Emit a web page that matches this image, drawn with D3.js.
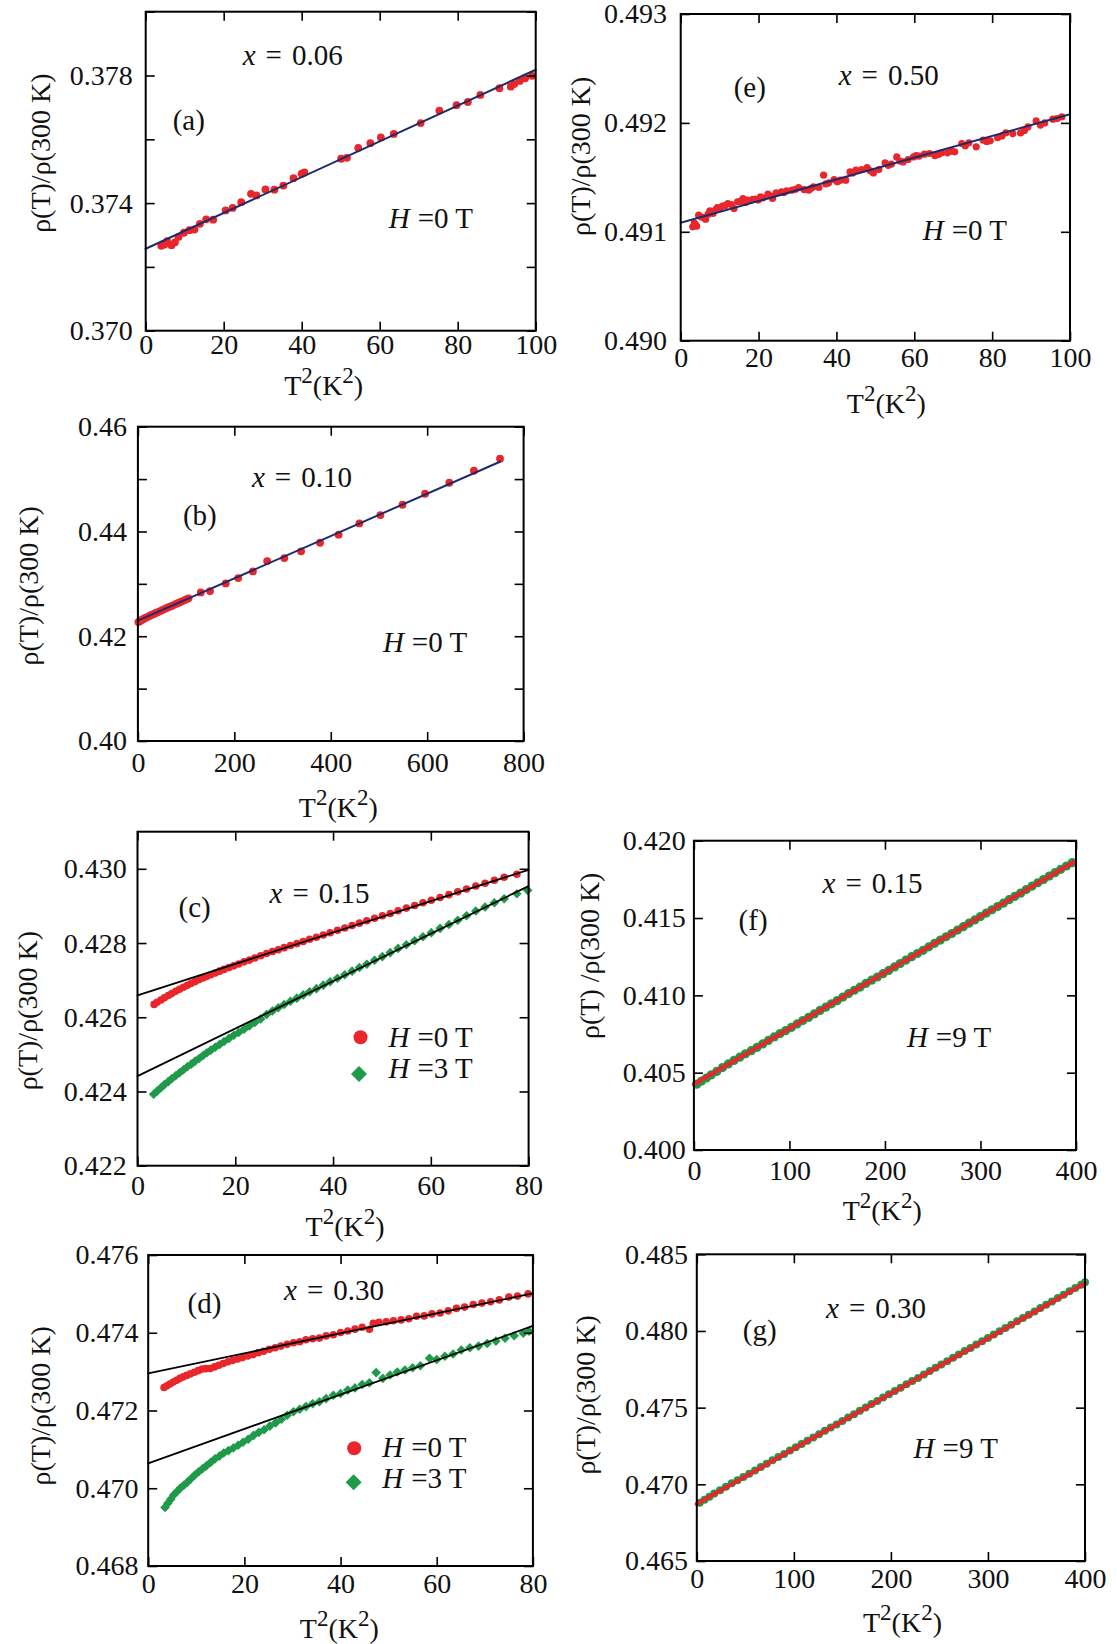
<!DOCTYPE html>
<html>
<head>
<meta charset="utf-8">
<script src="https://cdn.jsdelivr.net/npm/d3@7"></script>
<style>
  body { margin: 0; background: #fff; }
  svg text { font-family: "Liberation Serif", "Times New Roman", serif; fill: #111; }
</style>
</head>
<body>
<svg id="fig" width="1117" height="1644"></svg>
<script>
// rho(T)/rho(300 K) vs T^2, seven panels (a)-(g)

const RED = '#e8262b';
const GREEN = '#1f9a4a';
const NAVY = '#1d2b6b';
const FS = 28;
const TICK = 9;

// ---- panel (a) x = 0.06, H = 0 T
const aT2 = [4.0, 4.8, 5.5, 6.6, 7.5, 8.4, 9.8, 11.2, 12.5, 13.9, 15.5, 17.3, 20.5, 22.3, 24.5, 27.0, 28.4, 30.7, 33.0, 35.3,
  37.9, 40.0, 40.7, 50.1, 51.6, 54.5, 57.6, 60.3, 63.6, 70.5, 75.3, 79.7, 82.6, 85.8, 90.7, 93.6, 94.5, 95.9, 97.3, 99.1];
const aRho = [0.37266, 0.37270, 0.37281, 0.37268, 0.37277, 0.37294, 0.37307, 0.37315, 0.37317, 0.37335, 0.37349, 0.37348,
  0.37377, 0.37385, 0.37403, 0.37429, 0.37424, 0.37443, 0.37442, 0.37455, 0.37478, 0.37492, 0.37496, 0.37539, 0.37542,
  0.37573, 0.37588, 0.37606, 0.37617, 0.37651, 0.37690, 0.37707, 0.37717, 0.37739, 0.37760, 0.37765, 0.37773, 0.37783,
  0.37791, 0.37799];
const aFitT2 = [0, 100];
const aFitRho = [0.37257, 0.37818];
const aXTicks = [0, 20, 40, 60, 80, 100];
const aYTicks = [0.370, 0.372, 0.374, 0.376, 0.378, 0.380];
const aYLabels = [0.370, 0.374, 0.378];

// ---- panel (e) x = 0.50, H = 0 T
const eT2 = [3.1, 3.7, 4.1, 4.6, 5.2, 6.4, 7.5, 8.3, 9.4, 10.7, 12.1, 13.7, 14.6, 16.0, 17.2, 18.5, 19.9, 21.1, 22.4, 23.6,
  24.5, 25.9, 27.2, 28.6, 30.3, 31.7, 32.9, 34.1, 35.5, 36.7, 38.0, 39.4, 41.0, 42.4, 43.5, 45.0, 46.5, 47.9, 49.5, 50.9,
  52.5, 54.1, 55.5, 57.1, 58.4, 59.8, 61.2, 62.6, 63.9, 65.3, 67.0, 68.5, 70.4, 72.2, 74.0, 75.9, 77.7, 79.5, 81.4, 83.5,
  85.3, 87.3, 89.2, 91.3, 93.5, 95.6, 97.9,
  3.5, 5.9, 7.0, 8.9, 10.0, 11.4, 13.0, 15.3, 16.6, 19.2, 20.5, 23.0, 26.5, 29.5, 33.5, 37.3, 40.2, 44.2, 48.7, 53.3,
  56.3, 60.5, 66.2, 69.5, 73.1, 78.6, 82.5, 88.3, 92.4, 96.7];
const eRho = [0.491046, 0.491070, 0.491052, 0.491153, 0.491138, 0.491116, 0.491193, 0.491168, 0.491223, 0.491235,
  0.491260, 0.491214, 0.491275, 0.491306, 0.491291, 0.491297, 0.491291, 0.491312, 0.491346, 0.491306, 0.491358,
  0.491367, 0.491376, 0.491382, 0.491407, 0.491388, 0.491382, 0.491413, 0.491407, 0.491520, 0.491450, 0.491480,
  0.491474, 0.491474, 0.491550, 0.491566, 0.491572, 0.491590, 0.491541, 0.491572, 0.491633, 0.491621, 0.491688,
  0.491642, 0.491664, 0.491688, 0.491694, 0.491713, 0.491719, 0.491700, 0.491725, 0.491725, 0.491734, 0.491810,
  0.491817, 0.491780, 0.491841, 0.491835, 0.491865, 0.491908, 0.491902, 0.491908, 0.491963, 0.492018, 0.492000,
  0.492034, 0.492055,
  0.491080, 0.491130, 0.491160, 0.491200, 0.491210, 0.491240, 0.491250, 0.491280, 0.491270, 0.491300, 0.491320,
  0.491330, 0.491360, 0.491390, 0.491400, 0.491440, 0.491460, 0.491540, 0.491560, 0.491610, 0.491650, 0.491700,
  0.491710, 0.491740, 0.491790, 0.491830, 0.491880, 0.491930, 0.491980, 0.492040];
const eFitT2 = [0, 100];
const eFitRho = [0.491083, 0.492080];
const eYTicks = [0.490, 0.491, 0.492, 0.493];

// ---- panel (b) x = 0.10, H = 0 T
const bT2 = [1, 4, 7, 10, 13, 16, 20, 24, 28, 32, 36, 40, 45, 50, 55, 60, 65, 70, 75, 80, 85, 90, 95, 100, 105,
  130.4, 149.6, 182.2, 208.1, 238.5, 268.1, 303.7, 338.5, 377.8, 416.3, 459.3, 503.0, 548.9, 595.6, 645.9, 697.0, 751.1];
const bRho = [0.42270, 0.42288, 0.42305, 0.42322, 0.42339, 0.42351, 0.42369, 0.42388, 0.42405, 0.42422, 0.42439,
  0.42455, 0.42476, 0.42496, 0.42518, 0.42539, 0.42559, 0.42579, 0.42600, 0.42620, 0.42641, 0.42662, 0.42681,
  0.42702, 0.42723, 0.42837, 0.42863, 0.43009, 0.43111, 0.43238, 0.43435, 0.43492, 0.43620, 0.43785, 0.43938,
  0.44154, 0.44313, 0.44510, 0.44720, 0.44930, 0.45159, 0.45388];
const bFitT2 = [0, 751];
const bFitRho = [0.422964, 0.453308];
const bXTicks = [0, 200, 400, 600, 800];
const bYTicks = [0.40, 0.41, 0.42, 0.43, 0.44, 0.45, 0.46];
const bYLabels = [0.40, 0.42, 0.44, 0.46];

// ---- panel (c) x = 0.15, H = 0 T and 3 T
const cRedT2 = [3.4, 4.0, 4.8, 5.5, 6.3, 7.0, 7.8, 8.6, 9.4, 10.2, 11.0, 11.8, 12.6, 13.4, 14.2, 15.0, 15.9, 16.8, 17.7,
  18.7, 19.7, 20.7, 21.8, 22.9, 24.0, 25.2, 26.4, 27.6, 28.8, 30.0, 31.3, 32.6, 33.9, 35.2, 36.6, 38.0, 39.4, 40.9,
  42.4, 43.9, 45.4, 46.9, 48.5, 50.1, 51.7, 53.3, 55.0, 56.7, 58.4, 60.1, 61.9, 63.7, 65.5, 67.3, 69.2, 71.1, 73.0,
  75.0, 77.6];
const cRedRho = [0.426346, 0.426401, 0.426465, 0.426524, 0.426588, 0.426638, 0.426702, 0.426755, 0.426809, 0.426863,
  0.426917, 0.426961, 0.427014, 0.427058, 0.427102, 0.427146, 0.427194, 0.427242, 0.427290, 0.427342,
  0.427385, 0.427437, 0.427493, 0.427540, 0.427596, 0.427657, 0.427718, 0.427773, 0.427819, 0.427875,
  0.427935, 0.427985, 0.428040, 0.428100, 0.428154, 0.428218, 0.428277, 0.428345, 0.428404, 0.428472,
  0.428536, 0.428599, 0.428667, 0.428734, 0.428797, 0.428870, 0.428941, 0.429013, 0.429085, 0.429152,
  0.429228, 0.429304, 0.429380, 0.429456, 0.429536, 0.429612, 0.429692, 0.429772, 0.429852];
const cGreenT2 = [3.3, 4.0, 4.8, 5.5, 6.3, 7.0, 7.8, 8.6, 9.4, 10.2, 11.0, 11.8, 12.6, 13.4, 14.2, 15.0, 15.9, 16.8,
  17.7, 18.7, 19.7, 20.7, 21.8, 22.9, 24.0, 25.2, 26.4, 27.6, 28.8, 30.0, 31.3, 32.6, 33.9, 35.2, 36.6, 38.0, 39.4,
  40.9, 42.4, 43.9, 45.4, 46.9, 48.5, 50.1, 51.7, 53.3, 55.0, 56.7, 58.4, 60.1, 61.9, 63.7, 65.5, 67.3, 69.2, 71.1,
  73.0, 75.0, 77.6, 79.8];
const cGreenRho = [0.423924, 0.424009, 0.424100, 0.424185, 0.424266, 0.424341, 0.424422, 0.424503, 0.424585, 0.424666,
  0.424737, 0.424818, 0.424890, 0.424971, 0.425042, 0.425113, 0.425191, 0.425268, 0.425346, 0.425430,
  0.425514, 0.425588, 0.425678, 0.425769, 0.425859, 0.425956, 0.426073, 0.426170, 0.426256, 0.426343,
  0.426431, 0.426515, 0.426603, 0.426686, 0.426771, 0.426865, 0.426955, 0.427051, 0.427147, 0.427243,
  0.427339, 0.427430, 0.427537, 0.427635, 0.427742, 0.427855, 0.427954, 0.428062, 0.428171, 0.428280,
  0.428395, 0.428500, 0.428615, 0.428736, 0.428862, 0.428969, 0.429086, 0.429194, 0.429330, 0.429420];
const cFitT2 = [0, 80];
const cRedFitRho = [0.426592, 0.429973];
const cGreenFitRho = [0.424413, 0.429534];
const cXTicks = [0, 20, 40, 60, 80];
const cYTicks = [0.422, 0.424, 0.426, 0.428, 0.430];

// ---- panel (f) x = 0.15, H = 9 T
const fT2 = [3, 8, 13, 18, 24, 30, 36, 42, 48, 54, 60, 66, 72, 78, 84, 90, 96, 102, 108, 114, 120, 126, 132, 138, 144,
  150, 156, 162, 168, 174, 180, 186, 192, 198, 204, 210, 216, 222, 228, 234, 240, 246, 252, 258, 264, 270, 276, 282,
  288, 294, 300, 306, 312, 318, 324, 330, 336, 342, 348, 354, 360, 366, 372, 378, 384, 390, 396];
const fRho = [0.404254, 0.404455, 0.404656, 0.404857, 0.405084, 0.405331, 0.405567, 0.405794, 0.406001, 0.406218,
  0.406425, 0.406632, 0.406859, 0.407086, 0.407313, 0.407520, 0.407716, 0.407923, 0.408150, 0.408367,
  0.408574, 0.408801, 0.409028, 0.409235, 0.409452, 0.409659, 0.409886, 0.410112, 0.410329, 0.410536,
  0.410773, 0.410980, 0.411187, 0.411404, 0.411611, 0.411838, 0.412055, 0.412282, 0.412498, 0.412705,
  0.412912, 0.413139, 0.413366, 0.413573, 0.413790, 0.413997, 0.414224, 0.414441, 0.414668, 0.414874,
  0.415091, 0.415318, 0.415535, 0.415742, 0.415959, 0.416186, 0.416403, 0.416610, 0.416837, 0.417064,
  0.417280, 0.417487, 0.417714, 0.417931, 0.418148, 0.418365, 0.418582];
const fFitT2 = [0, 398];
const fFitRho = [0.404246, 0.418634];
const fXTicks = [0, 100, 200, 300, 400];
const fYTicks = [0.400, 0.405, 0.410, 0.415, 0.420];

// ---- panel (d) x = 0.30, H = 0 T and 3 T
const dRedT2 = [3.3, 3.9, 4.5, 5.2, 5.9, 6.6, 7.3, 8.0, 8.8, 9.6, 10.4, 11.2, 12.0, 12.9, 13.8, 14.7, 15.6, 16.6, 17.6,
  18.6, 19.6, 20.7, 21.8, 22.9, 24.0, 25.2, 26.4, 27.6, 28.9, 30.2, 31.5, 32.8, 34.2, 35.6, 37.0, 38.5, 40.0, 41.5,
  43.0, 44.5, 46.0, 46.8, 48.0, 49.5, 51.0, 52.6, 54.2, 55.8, 57.4, 59.0, 60.7, 62.4, 64.1, 65.8, 67.6, 69.4, 71.2,
  73.0, 75.0, 76.8, 79.0];
const dRedRho = [0.472592, 0.472637, 0.472683, 0.472731, 0.472779, 0.472827, 0.472865, 0.472903, 0.472943, 0.472984,
  0.473025, 0.473065, 0.473076, 0.473079, 0.473122, 0.473165, 0.473208, 0.473254, 0.473290, 0.473326,
  0.473361, 0.473400, 0.473438, 0.473486, 0.473525, 0.473575, 0.473616, 0.473657, 0.473701, 0.473744,
  0.473768, 0.473821, 0.473847, 0.473863, 0.473919, 0.473948, 0.474006, 0.474045, 0.474093, 0.474142,
  0.474091, 0.474241, 0.474272, 0.474281, 0.474309, 0.474330, 0.474362, 0.474423, 0.474434, 0.474485,
  0.474509, 0.474563, 0.474626, 0.474660, 0.474726, 0.474763, 0.474799, 0.474845, 0.474917, 0.474943, 0.475000];
const dGreenT2 = [3.5, 4.1, 4.7, 5.3, 6.0, 6.7, 7.4, 8.1, 8.9, 9.7, 10.5, 11.3, 12.1, 13.0, 13.9, 14.8, 15.7, 16.7,
  17.7, 18.7, 19.7, 20.8, 21.9, 23.0, 24.1, 25.3, 26.5, 27.7, 28.9, 30.2, 31.5, 32.8, 34.2, 35.6, 37.0, 38.5, 40.0,
  41.5, 43.0, 44.5, 46.0, 47.4, 48.8, 50.3, 51.8, 53.4, 55.0, 56.6, 58.5, 60.0, 61.7, 63.4, 65.1, 66.9, 68.7, 70.5,
  72.3, 74.2, 76.1, 78.0, 79.2];
const dGreenRho = [0.469507, 0.469613, 0.469720, 0.469826, 0.469917, 0.470008, 0.470079, 0.470150, 0.470245, 0.470340,
  0.470426, 0.470501, 0.470576, 0.470666, 0.470756, 0.470826, 0.470905, 0.470969, 0.471034, 0.471108,
  0.471182, 0.471261, 0.471359, 0.471438, 0.471506, 0.471599, 0.471682, 0.471775, 0.471878, 0.471966,
  0.472033, 0.472100, 0.472172, 0.472224, 0.472306, 0.472392, 0.472438, 0.472525, 0.472581, 0.472667,
  0.472713, 0.472975, 0.472827, 0.472913, 0.472989, 0.473040, 0.473101, 0.473151, 0.473345, 0.473312,
  0.473397, 0.473452, 0.473557, 0.473616, 0.473656, 0.473725, 0.473785, 0.473859, 0.473923, 0.473986, 0.474039];
const dFitT2 = [0, 80];
const dRedFitRho = [0.472957, 0.475015];
const dGreenFitRho = [0.470642, 0.474175];
const dYTicks = [0.468, 0.470, 0.472, 0.474, 0.476];

// ---- panel (g) x = 0.30, H = 9 T
const gT2 = [3, 8, 13, 18, 24, 30, 36, 42, 48, 54, 60, 66, 72, 78, 84, 90, 96, 102, 108, 114, 120, 126, 132, 138, 144,
  150, 156, 162, 168, 174, 180, 186, 192, 198, 204, 210, 216, 222, 228, 234, 240, 246, 252, 258, 264, 270, 276, 282,
  288, 294, 300, 306, 312, 318, 324, 330, 336, 342, 348, 354, 360, 366, 372, 378, 384, 390, 396, 400];
const gRho = [0.468795, 0.468995, 0.469185, 0.469395, 0.469621, 0.469846, 0.470062, 0.470268, 0.470474, 0.470690,
  0.470896, 0.471122, 0.471338, 0.471563, 0.471779, 0.471985, 0.472211, 0.472417, 0.472623, 0.472849,
  0.473055, 0.473270, 0.473496, 0.473702, 0.473908, 0.474134, 0.474360, 0.474566, 0.474792, 0.475007,
  0.475233, 0.475439, 0.475665, 0.475871, 0.476087, 0.476293, 0.476519, 0.476735, 0.476940, 0.477166,
  0.477382, 0.477608, 0.477814, 0.478020, 0.478246, 0.478462, 0.478687, 0.478893, 0.479119, 0.479325,
  0.479541, 0.479767, 0.479983, 0.480189, 0.480405, 0.480630, 0.480846, 0.481052, 0.481278, 0.481494,
  0.481710, 0.481926, 0.482152, 0.482367, 0.482583, 0.482799, 0.483015, 0.483179];
const gFitT2 = [0, 400];
const gFitRho = [0.468717, 0.483109];
const gYTicks = [0.465, 0.470, 0.475, 0.480, 0.485];

const YTITLE = 'ρ(T)/ρ(300 K)';

const panels = [
  {
    id: 'a', box: [145.7, 11.7, 535.7, 330.7], xDomain: [0, 100], yDomain: [0.370, 0.380],
    xTicks: aXTicks, yTicks: aYTicks, yLabels: aYLabels, yFmt: '.3f',
    xPad: 3.6, yPad: 13, yTitle: YTITLE, yTitleX: -96, yTitleDy: -18, xTitleDx: -17, xTitleY: 64,
    tag: [27, 118], comp: ['0.06', 97, 53], field: ['0', 243, 216],
    series: [{ t2: aT2, rho: aRho, shape: 'circle', color: RED, r: 3.9 }],
    fits: [{ t2: aFitT2, rho: aFitRho, color: NAVY, width: 2 }]
  },
  {
    id: 'e', box: [680.7, 14, 1070, 340.7], xDomain: [0, 100], yDomain: [0.490, 0.493],
    xTicks: aXTicks, yTicks: eYTicks, yLabels: eYTicks, yFmt: '.3f',
    xPad: 6, yPad: 13.7, yTitle: YTITLE, yTitleX: -91, yTitleDy: -21, xTitleDx: 11, xTitleY: 72,
    tag: [53, 83], comp: ['0.50', 158, 71], field: ['0', 242, 226],
    series: [{ t2: eT2, rho: eRho, shape: 'circle', color: RED, r: 3.6 }],
    fits: [{ t2: eFitT2, rho: eFitRho, color: NAVY, width: 2 }]
  },
  {
    id: 'b', box: [137.9, 426.7, 523.6, 741], xDomain: [0, 800], yDomain: [0.40, 0.46],
    xTicks: bXTicks, yTicks: bYTicks, yLabels: bYLabels, yFmt: '.2f',
    xPad: 10.8, yPad: 11, yTitle: YTITLE, yTitleX: -100, yTitleDy: 2, xTitleDx: 7.6, xTitleY: 76,
    tag: [45, 98], comp: ['0.10', 114, 60], field: ['0', 245, 225],
    series: [{ t2: bT2, rho: bRho, shape: 'circle', color: RED, r: 3.9 }],
    fits: [{ t2: bFitT2, rho: bFitRho, color: NAVY, width: 2 }]
  },
  {
    id: 'c', box: [137.5, 831.7, 528.6, 1165.7], xDomain: [0, 80], yDomain: [0.422, 0.431],
    xTicks: cXTicks, yTicks: cYTicks, yLabels: cYTicks, yFmt: '.3f',
    xPad: 9.4, yPad: 10.7, yTitle: YTITLE, yTitleX: -100.5, yTitleDy: 12, xTitleDx: 12, xTitleY: 70,
    tag: [41, 85], comp: ['0.15', 132, 71.6],
    legend: [
      { shape: 'circle', color: RED, mx: 223, my: 205.6, text: '0', tx: 251, ty: 215 },
      { shape: 'diamond', color: GREEN, mx: 221.5, my: 242.3, text: '3', tx: 251, ty: 246.6 }
    ],
    series: [
      { t2: cRedT2, rho: cRedRho, shape: 'circle', color: RED, r: 3.8 },
      { t2: cGreenT2, rho: cGreenRho, shape: 'diamond', color: GREEN, r: 4.8 }
    ],
    fits: [
      { t2: cFitT2, rho: cRedFitRho, color: '#000', width: 1.8 },
      { t2: cFitT2, rho: cGreenFitRho, color: '#000', width: 1.8 }
    ]
  },
  {
    id: 'f', box: [693.9, 840.7, 1076, 1150], xDomain: [0, 400], yDomain: [0.400, 0.420],
    xTicks: fXTicks, yTicks: fYTicks, yLabels: fYTicks, yFmt: '.3f',
    xPad: 10.1, yPad: 8.2, yTitle: 'ρ(T) /ρ(300 K)', yTitleX: -95, yTitleDy: -39.6, xTitleDx: -2.7, xTitleY: 70,
    tag: [44.7, 89.3], comp: ['0.15', 128.6, 52], field: ['9', 213, 206],
    series: [{ t2: fT2, rho: fRho, shape: 'circle', color: GREEN, r: 4.6 }],
    fits: [{ t2: fFitT2, rho: fFitRho, color: RED, width: 4.2 }]
  },
  {
    id: 'd', box: [148.2, 1255, 532.9, 1566], xDomain: [0, 80], yDomain: [0.468, 0.476],
    xTicks: cXTicks, yTicks: dYTicks, yLabels: dYTicks, yFmt: '.3f',
    xPad: 7.4, yPad: 9.6, yTitle: YTITLE, yTitleX: -98.6, yTitleDy: -4.7, xTitleDx: -1.2, xTitleY: 72,
    tag: [39.3, 58.3], comp: ['0.30', 135.8, 45],
    legend: [
      { shape: 'circle', color: RED, mx: 206, my: 193.3, text: '0', tx: 234, ty: 201.7 },
      { shape: 'diamond', color: GREEN, mx: 205.4, my: 227.3, text: '3', tx: 234, ty: 232.7 }
    ],
    series: [
      { t2: dRedT2, rho: dRedRho, shape: 'circle', color: RED, r: 3.8 },
      { t2: dGreenT2, rho: dGreenRho, shape: 'diamond', color: GREEN, r: 4.8 }
    ],
    fits: [
      { t2: dFitT2, rho: dRedFitRho, color: '#000', width: 1.8 },
      { t2: dFitT2, rho: dGreenFitRho, color: '#000', width: 1.8 }
    ]
  },
  {
    id: 'g', box: [696.8, 1254.3, 1085, 1561], xDomain: [0, 400], yDomain: [0.465, 0.485],
    xTicks: fXTicks, yTicks: gYTicks, yLabels: gYTicks, yFmt: '.3f',
    xPad: 7.4, yPad: 8.9, yTitle: YTITLE, yTitleX: -101.5, yTitleDy: -12.7, xTitleDx: 11.6, xTitleY: 70.7,
    tag: [46, 85.7], comp: ['0.30', 129.2, 64], field: ['9', 216.8, 204],
    series: [{ t2: gT2, rho: gRho, shape: 'circle', color: GREEN, r: 4.0 }],
    fits: [{ t2: gFitT2, rho: gFitRho, color: RED, width: 4.2 }]
  }
];

const svg = d3.select('#fig');

function styleAxis(sel) {
  sel.select('.domain').remove();
  sel.selectAll('.tick line').attr('stroke', '#000').attr('stroke-width', 1.6);
  sel.selectAll('text')
    .attr('font-size', FS)
    .attr('font-family', '"Liberation Serif", "Times New Roman", serif')
    .attr('fill', '#111');
  sel.attr('font-family', null).attr('font-size', null);
}

function marker(g, shape, cx, cy, r, color) {
  if (shape === 'circle') {
    g.append('circle').attr('cx', cx).attr('cy', cy).attr('r', r).attr('fill', color);
  } else {
    // square turned 45 degrees; r is the half diagonal
    const side = r * Math.SQRT2;
    g.append('path')
      .attr('d', d3.symbol(d3.symbolSquare, side * side)())
      .attr('transform', `translate(${cx},${cy}) rotate(45)`)
      .attr('fill', color);
  }
}

// "H =0 T" style label: italic H then the rest
function fieldLabel(g, x, y, val) {
  const t = g.append('text').attr('x', x).attr('y', y).attr('font-size', 29);
  t.append('tspan').attr('font-style', 'italic').text('H');
  t.append('tspan').attr('dx', 8).text('=' + val + ' T');
}

function drawPanel(p) {
  const [x0, y0, x1, y1] = p.box;
  const x = d3.scaleLinear().domain(p.xDomain).range([x0, x1]);
  const y = d3.scaleLinear().domain(p.yDomain).range([y1, y0]);
  const g = svg.append('g').attr('class', 'panel panel-' + p.id);
  const yFmt = d3.format(p.yFmt);

  // data points
  p.series.forEach(s => {
    const sg = g.append('g').attr('class', 'series');
    s.t2.forEach((t, i) => marker(sg, s.shape, x(t), y(s.rho[i]), s.r, s.color));
  });

  // fitted lines
  const line = d3.line().x(d => x(d[0])).y(d => y(d[1]));
  p.fits.forEach(f => {
    g.append('path')
      .datum(f.t2.map((t, i) => [t, f.rho[i]]))
      .attr('d', line)
      .attr('fill', 'none')
      .attr('stroke', f.color)
      .attr('stroke-width', f.width)
      .attr('stroke-linecap', 'round');
  });

  // axes, ticks pointing inwards on all four sides
  g.append('g').attr('transform', `translate(0,${y1})`)
    .call(d3.axisBottom(x).tickValues(p.xTicks).tickSize(-TICK).tickSizeOuter(0)
      .tickPadding(p.xPad).tickFormat(d3.format('d')))
    .call(styleAxis);
  g.append('g').attr('transform', `translate(0,${y0})`)
    .call(d3.axisTop(x).tickValues(p.xTicks).tickSize(-TICK).tickSizeOuter(0).tickFormat(''))
    .call(styleAxis);
  g.append('g').attr('transform', `translate(${x0},0)`)
    .call(d3.axisLeft(y).tickValues(p.yTicks).tickSize(-TICK).tickSizeOuter(0)
      .tickPadding(p.yPad).tickFormat(d => p.yLabels.includes(d) ? yFmt(d) : ''))
    .call(styleAxis);
  g.append('g').attr('transform', `translate(${x1},0)`)
    .call(d3.axisRight(y).tickValues(p.yTicks).tickSize(-TICK).tickSizeOuter(0).tickFormat(''))
    .call(styleAxis);

  g.append('rect')
    .attr('x', x0).attr('y', y0)
    .attr('width', x1 - x0).attr('height', y1 - y0)
    .attr('fill', 'none').attr('stroke', '#000').attr('stroke-width', 2);

  // axis titles
  g.append('text')
    .attr('transform', `translate(${x0 + p.yTitleX},${(y0 + y1) / 2 + p.yTitleDy}) rotate(-90)`)
    .attr('text-anchor', 'middle')
    .attr('font-size', FS)
    .text(p.yTitle);

  const xt = g.append('text')
    .attr('x', (x0 + x1) / 2 + p.xTitleDx)
    .attr('y', y1 + p.xTitleY)
    .attr('text-anchor', 'middle')
    .attr('font-size', FS);
  xt.append('tspan').text('T');
  xt.append('tspan').attr('dy', -12).attr('font-size', 23).text('2');
  xt.append('tspan').attr('dy', 12).text('(K');
  xt.append('tspan').attr('dy', -12).attr('font-size', 23).text('2');
  xt.append('tspan').attr('dy', 12).text(')');

  // panel tag and composition
  g.append('text')
    .attr('x', x0 + p.tag[0]).attr('y', y0 + p.tag[1])
    .attr('font-size', 29)
    .text('(' + p.id + ')');

  const ct = g.append('text')
    .attr('x', x0 + p.comp[1]).attr('y', y0 + p.comp[2])
    .attr('font-size', 29);
  ct.append('tspan').attr('font-style', 'italic').text('x');
  ct.append('tspan').attr('dx', 10).text('=');
  ct.append('tspan').attr('dx', 10).text(p.comp[0]);

  if (p.field) {
    fieldLabel(g, x0 + p.field[1], y0 + p.field[2], p.field[0]);
  }

  if (p.legend) {
    p.legend.forEach(l => {
      marker(g, l.shape, x0 + l.mx, y0 + l.my, l.shape === 'circle' ? 7 : 8, l.color);
      fieldLabel(g, x0 + l.tx, y0 + l.ty, l.text);
    });
  }
}

panels.forEach(drawPanel);
</script>
</body>
</html>
